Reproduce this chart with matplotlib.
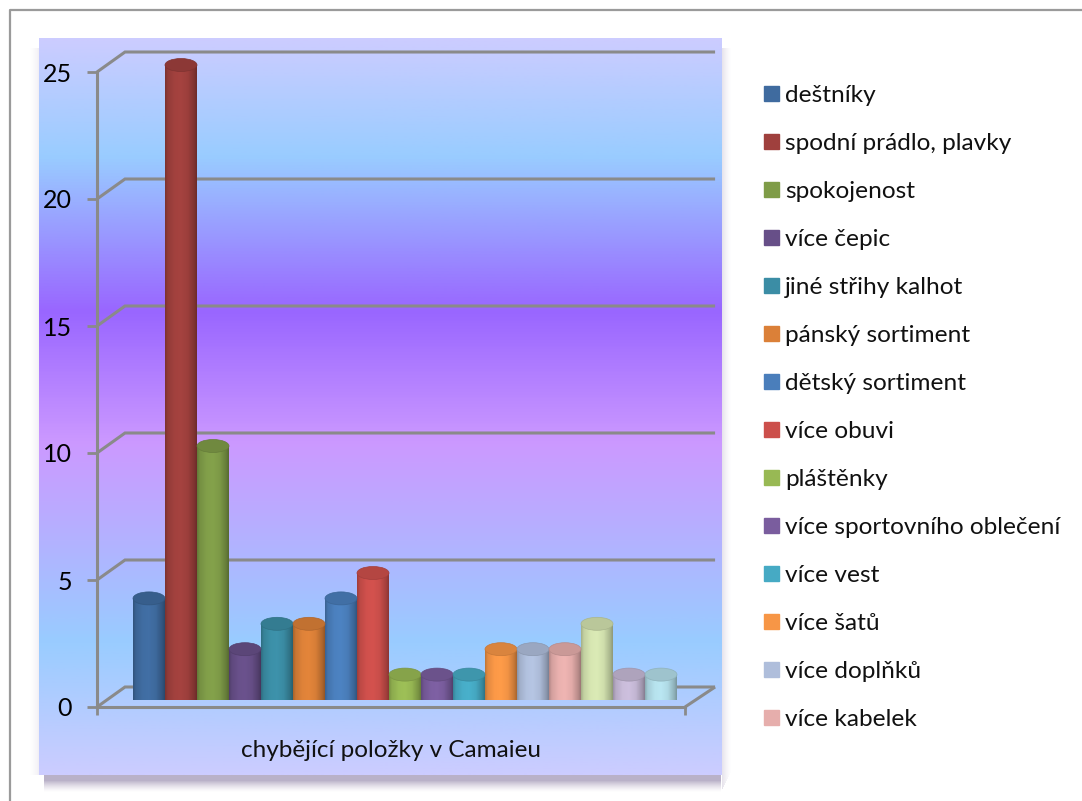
import numpy as np
import matplotlib
matplotlib.use("Agg")
import matplotlib.pyplot as plt
from matplotlib.colors import LinearSegmentedColormap, to_rgb
from matplotlib.patches import Ellipse, PathPatch, Patch, Rectangle
from matplotlib.path import Path

# chybějící položky v Camaieu
labels = ["deštníky", "spodní prádlo, plavky", "spokojenost", "více čepic",
          "jiné střihy kalhot", "pánský sortiment", "dětský sortiment",
          "více obuvi", "pláštěnky", "více sportovního oblečení", "více vest",
          "více šatů", "více doplňků", "více kabelek"]
values = [4, 25, 10, 2, 3, 3, 4, 5, 1, 1, 1, 2, 2, 2, 3, 1, 1]
colors = ["#3F6B9F", "#9F403D", "#7F9C48", "#674F88", "#3B8DA5", "#DB8038",
          "#4A7EBB", "#CC4F4B", "#98B954", "#7A5D9E", "#46AAC4", "#F79646",
          "#AFBEDB", "#E6AEAC", "#D3E2AF", "#C6B9D6", "#B3DEE9"]
xlabel = "chybějící položky v Camaieu"
yticks = [0, 5, 10, 15, 20, 25]

W, H = 1082, 801
FONT = "Lato"
FS = 18
GRAY = "#8A8A8A"


def box(x0, y0, x1, y1):
    # pixelový obdélník (y shora) -> pozice os
    return [x0 / W, 1 - y1 / H, (x1 - x0) / W, (y1 - y0) / H]


plt.rcParams["font.family"] = [FONT, "DejaVu Sans"]
fig = plt.figure(figsize=(W / 100, H / 100), dpi=100, facecolor="white")

# ── Pozadí, rámeček a stín ───────────────────────────────────────────────────
deco = fig.add_axes([0, 0, 1, 1])
deco.axis("off")

deco.plot([10, 10, W], [H, 10, 10], color="#9A9A9A", lw=1.6, zorder=1)

SHADOW = "#7A6A96"
for d in range(17):
    a = 0.52 if d < 5 else 0.52 * ((17 - d) / 12) ** 1.5
    deco.add_patch(Rectangle((44, 775 + d), 678 - 1, 1, fc=SHADOW, ec="none", alpha=a, zorder=1))
for d in range(9):
    deco.add_patch(Rectangle((722 + d, 48), 1, 727 + 14 - 2 * d, fc=SHADOW, ec="none",
                             alpha=0.18 * ((9 - d) / 9) ** 1.5, zorder=1))
    deco.add_patch(Rectangle((38 - d, 48), 1, 727, fc=SHADOW, ec="none",
                             alpha=0.1 * ((9 - d) / 9) ** 1.5, zorder=1))

panel_cmap = LinearSegmentedColormap.from_list("panel", [
    (0.00, "#CCCCFF"), (0.16, "#99CCFF"), (0.37, "#9966FF"),
    (0.55, "#CC99FF"), (0.82, "#99CCFF"), (1.00, "#CCCCFF")])
deco.imshow(np.linspace(0, 1, 512)[:, None], cmap=panel_cmap,
            extent=(39, 722, 775, 38), aspect="auto", zorder=2)
deco.set_xlim(0, W)
deco.set_ylim(H, 0)

# ── Přední rovina: osa y, spodní osa a popisek ───────────────────────────────
front = fig.add_axes(box(97, 72, 685, 707), facecolor="none")
front.set_xlim(0, 1)
front.set_ylim(0, 25)
front.set_yticks(yticks)
front.set_xticks([0, 1])
front.set_xticklabels([])
front.tick_params(axis="y", length=7, width=2, color=GRAY, labelsize=FS, pad=11, labelcolor="black")
front.tick_params(axis="x", length=6, width=2, color=GRAY)
for side in ("top", "right"):
    front.spines[side].set_visible(False)
for side in ("left", "bottom"):
    front.spines[side].set_color(GRAY)
    front.spines[side].set_linewidth(2.2)
front.set_xlabel(xlabel, fontsize=17.5, labelpad=14, x=0.5, color="#111111")

# ── Válce ────────────────────────────────────────────────────────────────────
ax = fig.add_axes(box(133, 65, 677, 700), facecolor="none")
ax.axis("off")

# mřížka na zadní stěně a šikmé spojnice k přední rovině
FRONT_DY, BACK_DY = -7 / 25.4, 13 / 25.4
X_FRONT_L, X_BACK_L, X_FRONT_R, X_BACK_R = -1.625, -0.75, 16.75, 17.69
for v in yticks:
    ax.plot([X_FRONT_L, X_BACK_L, X_BACK_R], [v + FRONT_DY, v + BACK_DY, v + BACK_DY],
            color=GRAY, lw=2.2, clip_on=False, zorder=1, solid_joinstyle="miter",
            solid_capstyle="butt")
ax.plot([X_FRONT_R, X_BACK_R], [FRONT_DY, BACK_DY], color=GRAY, lw=2.2, clip_on=False,
        zorder=1, solid_capstyle="butt")

# světlo na válci zleva doprava
pos = [0.0, 0.08, 0.3, 0.5, 0.72, 0.92, 1.0]
light = [0.78, 0.92, 1.02, 1.04, 0.98, 0.8, 0.68]
TOP_H = 13 / 25.4
BASE_H = 6 / 25.4
for i, (v, c) in enumerate(zip(values, colors)):
    base = np.array(to_rgb(c))
    shades = [tuple(np.clip(base * k, 0, 1)) for k in light]
    cmap = LinearSegmentedColormap.from_list(f"c{i}", list(zip(pos, shades)))
    im = ax.imshow(np.linspace(0, 1, 64)[None, :], cmap=cmap, aspect="auto",
                   extent=(i - 0.5, i + 0.5, -BASE_H / 2, v), zorder=3 + i * 0.01,
                   interpolation="bilinear")
    # tělo válce se zaobleným spodkem
    k = 0.5523
    verts = [(i - 0.5, v), (i - 0.5, 0),
             (i - 0.5, -k * BASE_H / 2), (i - k * 0.5, -BASE_H / 2), (i, -BASE_H / 2),
             (i + k * 0.5, -BASE_H / 2), (i + 0.5, -k * BASE_H / 2), (i + 0.5, 0),
             (i + 0.5, v), (i - 0.5, v)]
    codes = [Path.MOVETO, Path.LINETO, Path.CURVE4, Path.CURVE4, Path.CURVE4,
             Path.CURVE4, Path.CURVE4, Path.CURVE4, Path.LINETO, Path.CLOSEPOLY]
    clip = PathPatch(Path(verts, codes), transform=ax.transData, fc="none", ec="none")
    ax.add_patch(clip)
    im.set_clip_path(clip)
    # horní podstava
    ax.add_patch(Ellipse((i, v), 1, TOP_H, fc=tuple(base * 0.88), ec=tuple(base * 0.8),
                         lw=0.5, zorder=3.5 + i * 0.01, clip_on=False))
ax.set_xlim(-0.5, len(values) - 0.5)
ax.set_ylim(0, 25)

# ── Legenda ──────────────────────────────────────────────────────────────────
handles = [Patch(color=c, label=t) for c, t in zip(colors, labels)]
fig.legend(handles=handles, loc="upper left", bbox_to_anchor=(764 / W, 1 - 85 / H),
           frameon=False, fontsize=17.6, handlelength=0.61, handleheight=0.61,
           handletextpad=0.25, labelspacing=1.105, borderpad=0, borderaxespad=0,
           labelcolor="#111111")

fig.savefig("out.png", dpi=100)
